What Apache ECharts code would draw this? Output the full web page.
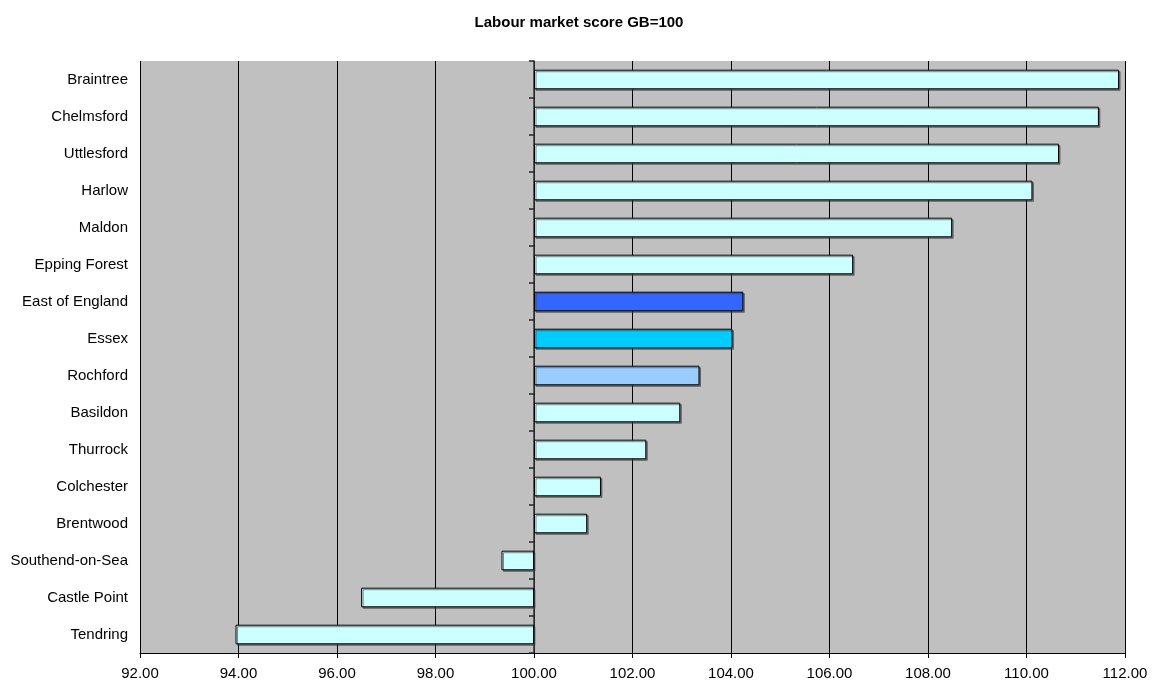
<!DOCTYPE html>
<html>
<head>
<meta charset="utf-8">
<script src="https://cdn.jsdelivr.net/npm/echarts@6/dist/echarts.min.js"></script>
<style>
  html, body { margin: 0; padding: 0; background: #ffffff; }
  #chart { width: 1158px; height: 686px; }
</style>
</head>
<body>
<div id="chart"></div>
<script>
// Labour market score by district, indexed so that GB = 100
const areas = [
  'Braintree', 'Chelmsford', 'Uttlesford', 'Harlow', 'Maldon', 'Epping Forest',
  'East of England', 'Essex', 'Rochford', 'Basildon', 'Thurrock', 'Colchester',
  'Brentwood', 'Southend-on-Sea', 'Castle Point', 'Tendring'
];
const scores = [
  111.88, 111.47, 110.66, 110.12, 108.49, 106.48,
  104.25, 104.03, 103.36, 102.97, 102.28, 101.36,
  101.08, 99.34, 96.49, 93.94
];
const highlightColours = {
  'East of England': '#3366FF',
  'Essex': '#00CCFF',
  'Rochford': '#99CCFF'
};
const baseColour = '#CCFFFF';
const baseline = 100;
const axisMin = 92, axisMax = 112, axisStep = 2;

// Bars grow from the GB baseline, so plot the difference from 100
// and label the axis in index terms.
const cats = areas.slice().reverse();
const vals = scores.slice().reverse();
const barData = vals.map((v, i) => ({
  value: +(v - baseline).toFixed(2),
  itemStyle: { color: highlightColours[cats[i]] || baseColour }
}));

const chart = echarts.init(document.getElementById('chart'), null, { renderer: 'canvas' });
const font = '"Liberation Sans", Arial, sans-serif';

chart.setOption({
  animation: false,
  backgroundColor: '#ffffff',
  title: {
    text: 'Labour market score GB=100',
    left: 'center',
    top: 10,
    textStyle: { fontFamily: font, fontSize: 15, fontWeight: 'bold', color: '#000' }
  },
  grid: { left: 140, right: 33, top: 61, bottom: 33, backgroundColor: '#C0C0C0', show: true, borderWidth: 0 },
  xAxis: {
    type: 'value',
    min: axisMin - baseline,
    max: axisMax - baseline,
    interval: axisStep,
    axisLine: { show: true, onZero: false, lineStyle: { color: '#000', width: 1 } },
    axisTick: { show: true, length: 5, lineStyle: { color: '#000' } },
    axisLabel: {
      fontFamily: font, fontSize: 15, color: '#000', margin: 13,
      formatter: v => (v + baseline).toFixed(2)
    },
    splitLine: { show: true, lineStyle: { color: '#000', width: 1 } }
  },
  yAxis: [
    {
      type: 'category',
      data: cats,
      position: 'left',
      axisLine: { show: false, onZero: false },
      axisTick: { show: false },
      axisLabel: { fontFamily: font, fontSize: 15, color: '#000', margin: 12 },
      splitLine: { show: false }
    },
    {
      type: 'category',
      data: cats,
      position: 'left',
      axisLine: { show: true, onZero: true, lineStyle: { color: '#333', width: 1.5 } },
      axisTick: { show: true, length: 5, lineStyle: { color: '#222', width: 1.5 } },
      axisLabel: { show: false },
      splitLine: { show: false }
    }
  ],
  series: [{
    type: 'bar',
    yAxisIndex: 0,
    data: barData,
    barCategoryGap: '47%',
    itemStyle: {
      borderColor: '#000',
      borderWidth: 1,
      shadowColor: 'rgba(60,60,60,0.6)',
      shadowOffsetX: 1.5,
      shadowOffsetY: 1.5,
      shadowBlur: 0
    },
    emphasis: { disabled: true }
  }]
});
</script>
</body>
</html>
